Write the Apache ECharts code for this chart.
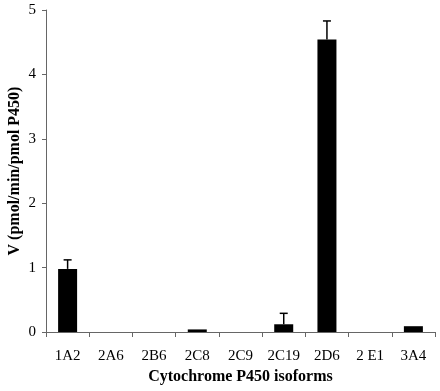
<!DOCTYPE html>
<html><head><meta charset="utf-8">
<script src="https://cdn.jsdelivr.net/npm/echarts@6/dist/echarts.min.js"></script>
<style>html,body{margin:0;padding:0;background:#fff}#c{width:440px;height:391px}</style>
</head><body><div id="c"></div>
<script>
var categories = ['1A2','2A6','2B6','2C8','2C9','2C19','2D6','2 E1','3A4'];
var values = [0.98, 0, 0, 0.04, 0, 0.12, 4.54, 0, 0.09];
var errors = [0.14, 0, 0, 0, 0, 0.17, 0.29, 0, 0];
var yTicks = [0, 1, 2, 3, 4, 5];

var chart = echarts.init(document.getElementById('c'));
var font = 'Liberation Serif, Times New Roman, serif';
var errData = values.map(function (v, i) { return [i, v, v + errors[i]]; });
chart.setOption({
  animation: false,
  grid: { left: 46, right: 5, top: 10, bottom: 59, containLabel: false, outerBoundsMode: 'none' },
  xAxis: {
    type: 'category', data: categories,
    name: 'Cytochrome P450 isoforms', nameLocation: 'middle', nameGap: 37,
    nameTextStyle: { fontFamily: font, fontWeight: 'bold', fontSize: 16, color: '#000' },
    axisLine: { lineStyle: { color: '#666', width: 1 } },
    axisTick: { show: true, length: 5, lineStyle: { color: '#666' }, alignWithLabel: false },
    axisLabel: { fontFamily: font, fontSize: 15, color: '#000', margin: 17, interval: 0 }
  },
  yAxis: {
    type: 'value', min: yTicks[0], max: yTicks[yTicks.length - 1], interval: 1,
    name: 'V (pmol/min/pmol P450)', nameLocation: 'middle', nameGap: 23, nameMoveOverlap: false,
    nameTextStyle: { fontFamily: font, fontWeight: 'bold', fontSize: 16, color: '#000' },
    axisLine: { show: true, lineStyle: { color: '#666', width: 1 } },
    axisTick: { show: true, length: 4, lineStyle: { color: '#666' } },
    axisLabel: { fontFamily: font, fontSize: 15, color: '#000', margin: 10 },
    splitLine: { show: false }
  },
  series: [{
    type: 'bar', data: values, barWidth: 19,
    itemStyle: { color: '#000' }
  }, {
    type: 'custom', data: errData,
    renderItem: function (params, api) {
      var i = api.value(0), v = api.value(1), h = api.value(2);
      if (h - v <= 0) return;
      var p0 = api.coord([i, v]), p1 = api.coord([i, h]);
      var st = { stroke: '#000', lineWidth: 1.5 };
      return { type: 'group', children: [
        { type: 'line', shape: { x1: p0[0], y1: p0[1], x2: p1[0], y2: p1[1] }, style: st },
        { type: 'line', shape: { x1: p1[0] - 4, y1: p1[1], x2: p1[0] + 4, y2: p1[1] }, style: st }
      ]};
    },
    z: 3
  }]
});
</script></body></html>
